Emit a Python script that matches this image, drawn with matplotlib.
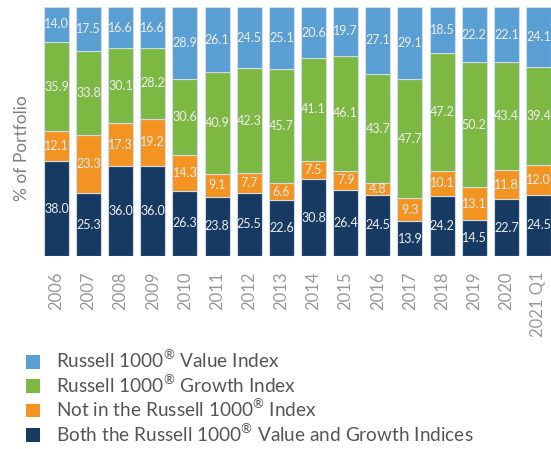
import matplotlib
matplotlib.use("Agg")
import matplotlib.pyplot as plt
from matplotlib.patches import Patch
from matplotlib import font_manager

categories = ["2006", "2007", "2008", "2009", "2010", "2011", "2012", "2013",
              "2014", "2015", "2016", "2017", "2018", "2019", "2020", "2021 Q1"]
both_vals = [38.0, 25.3, 36.0, 36.0, 26.3, 23.8, 25.5, 22.6, 30.8, 26.4, 24.5, 13.9, 24.2, 14.5, 22.7, 24.5]
not_in_vals = [12.1, 23.3, 17.3, 19.2, 14.3, 9.1, 7.7, 6.6, 7.5, 7.9, 4.8, 9.3, 10.1, 13.1, 11.8, 12.0]
growth_vals = [35.9, 33.8, 30.1, 28.2, 30.6, 40.9, 42.3, 45.7, 41.1, 46.1, 43.7, 47.7, 47.2, 50.2, 43.4, 39.4]
value_vals = [14.0, 17.5, 16.6, 16.6, 28.9, 26.1, 24.5, 25.1, 20.6, 19.7, 27.1, 29.1, 18.5, 22.2, 22.1, 24.1]

R = "$^{\\mathrm{\u00ae}}$"
series = [
    ("Both the Russell 1000" + R + " Value and Growth Indices", both_vals, "#173A63"),
    ("Not in the Russell 1000" + R + " Index", not_in_vals, "#F39322"),
    ("Russell 1000" + R + " Growth Index", growth_vals, "#7DB843"),
    ("Russell 1000" + R + " Value Index", value_vals, "#5A9FD4"),
]

fam = "Lato"
names = {f.name for f in font_manager.fontManager.ttflist}
if fam not in names:
    fam = "DejaVu Sans"
plt.rcParams["font.family"] = [fam, "DejaVu Sans"]
plt.rcParams["mathtext.fontset"] = "custom"
plt.rcParams["mathtext.rm"] = fam

fig = plt.figure(figsize=(5.51, 4.49), dpi=100)
ax = fig.add_axes([40 / 551, 1 - 256 / 449, 1 - 40 / 551, (256 - 7) / 449])

x = list(range(len(categories)))
bottom = [0.0] * len(categories)
for name, vals, color in series:
    ax.bar(x, vals, width=0.78, bottom=bottom, color=color,
           edgecolor="#cfdde9", linewidth=0.8, label=name)
    for i, v in enumerate(vals):
        ax.text(i, bottom[i] + v / 2, f"{v:.1f}", ha="center", va="center",
                fontsize=9, color="#eeeeee")
    bottom = [b + v for b, v in zip(bottom, vals)]

ax.set_xlim(-0.51, 15.39)
ax.set_ylim(0, 100)
ax.set_yticks([])
ax.set_xticks(x)
ax.set_xticklabels(categories, rotation=90, fontsize=12, color="#999999")
ax.tick_params(axis="x", length=0, pad=11)
for s in ax.spines.values():
    s.set_visible(False)

fig.text(22 / 551, 1 - 148 / 449, "% of Portfolio", rotation=90, ha="center",
         va="center", fontsize=12.5, color="#7f7f7f")

handles = [Patch(facecolor=c, edgecolor="none", label=n) for n, _, c in series[::-1]]
fig.legend(handles=handles, loc="upper left", bbox_to_anchor=(26 / 551, 1 - 349 / 449),
           frameon=False, fontsize=13.7, handlelength=0.75, handleheight=0.75,
           handletextpad=0.85, labelspacing=0.12, labelcolor="#555555",
           borderaxespad=0, borderpad=0)

fig.savefig("out.png", dpi=100)
